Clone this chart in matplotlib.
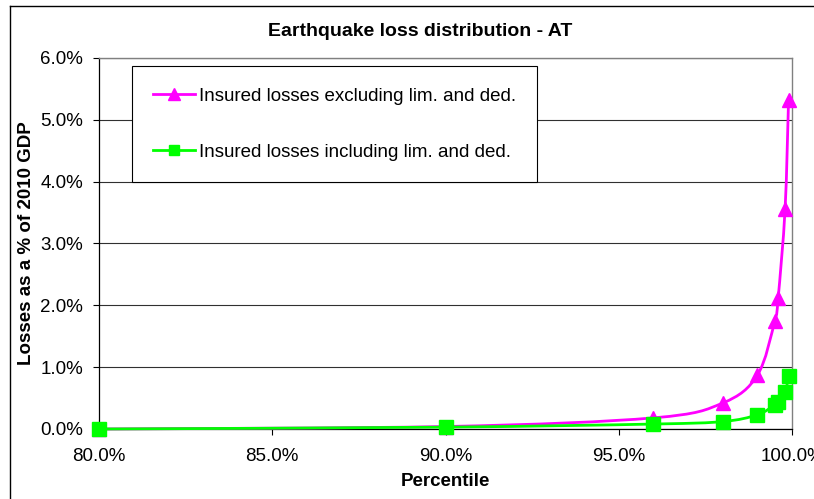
import matplotlib
matplotlib.use('Agg')
import matplotlib.pyplot as plt
from matplotlib.path import Path
from matplotlib.patches import PathPatch
from matplotlib.lines import Line2D
from matplotlib.ticker import FuncFormatter, MultipleLocator

plt.rcParams['font.family'] = ['Liberation Sans', 'DejaVu Sans']

# Datos (percentil y perdidas en % del PIB 2010)
percentiles = [80.0, 90.0, 96.0, 98.0, 99.0, 99.5, 99.6, 99.8, 99.9]
excl_losses = [0.00, 0.04, 0.18, 0.42, 0.87, 1.74, 2.12, 3.56, 5.32]
incl_losses = [0.00, 0.03, 0.08, 0.12, 0.23, 0.39, 0.44, 0.60, 0.85]

label_excl = 'Insured losses excluding lim. and ded.'
label_incl = 'Insured losses including lim. and ded.'
magenta = '#FF00FF'
green = '#00FF00'
fsize = 13.5


def smooth_path(xs, ys):
    # curva suavizada tipo Excel (Bezier que pasa por cada punto)
    pts = list(zip(xs, ys))
    verts = [pts[0]]
    codes = [Path.MOVETO]
    n = len(pts)
    for i in range(n - 1):
        p0 = pts[i - 1] if i > 0 else pts[i]
        p1 = pts[i]
        p2 = pts[i + 1]
        p3 = pts[i + 2] if i + 2 < n else pts[i + 1]
        c1 = (p1[0] + (p2[0] - p0[0]) / 6, p1[1] + (p2[1] - p0[1]) / 6)
        c2 = (p2[0] - (p3[0] - p1[0]) / 6, p2[1] - (p3[1] - p1[1]) / 6)
        verts += [c1, c2, p2]
        codes += [Path.CURVE4] * 3
    return Path(verts, codes)


fig = plt.figure(figsize=(8.14, 4.99), dpi=100)
ax = fig.add_axes([0.1216, 0.1403, 0.8514, 0.7435])

ax.set_xlim(80, 100)
ax.set_ylim(0, 6)
ax.yaxis.set_major_locator(MultipleLocator(1))
ax.xaxis.set_major_locator(MultipleLocator(5))
ax.yaxis.set_major_formatter(FuncFormatter(lambda v, p: '%.1f%%' % v))
ax.xaxis.set_major_formatter(FuncFormatter(lambda v, p: '%.1f%%' % v))
ax.grid(axis='y', color='#303030', linewidth=0.8)
ax.set_axisbelow(True)
ax.tick_params(direction='out', length=4.5, width=0.8, labelsize=fsize)
ax.tick_params(axis='x', pad=9.5)
ax.tick_params(axis='y', pad=7)

for s in ['left', 'bottom']:
    ax.spines[s].set_color('black')
    ax.spines[s].set_linewidth(0.9)
for s in ['top', 'right']:
    ax.spines[s].set_color('#808080')
    ax.spines[s].set_linewidth(1.0)

# lineas suavizadas
for ys, col, z in [(excl_losses, magenta, 3), (incl_losses, green, 4)]:
    patch = PathPatch(smooth_path(percentiles, ys), facecolor='none', edgecolor=col,
                      linewidth=2.0, zorder=z, clip_on=False)
    ax.add_patch(patch)

ax.plot(percentiles, excl_losses, linestyle='none', marker='^', markersize=10.5,
        color=magenta, zorder=5, clip_on=False)
ax.plot(percentiles, incl_losses, linestyle='none', marker='s', markersize=9.5,
        color=green, zorder=6, clip_on=False)

handles = [
    Line2D([], [], color=magenta, linewidth=2.0, marker='^', markersize=9),
    Line2D([], [], color=green, linewidth=2.0, marker='s', markersize=7),
]
leg = fig.legend(handles, [label_excl, label_incl], loc='upper left',
                 bbox_to_anchor=(0.162, 0.868), fontsize=fsize, frameon=True,
                 fancybox=False, framealpha=1, edgecolor='black',
                 borderpad=1.15, labelspacing=2.08, handlelength=2.2,
                 handletextpad=0.22, borderaxespad=0)
leg.get_frame().set_linewidth(0.8)

fig.text(0.516, 0.936, 'Earthquake loss distribution - AT', ha='center', va='center',
         fontsize=14, fontweight='bold')
fig.text(0.547, 0.036, 'Percentile', ha='center', va='center',
         fontsize=fsize, fontweight='bold')
fig.text(0.032, 0.512, 'Losses as a % of 2010 GDP', ha='center', va='center',
         rotation=90, fontsize=fsize, fontweight='bold')

# borde exterior del grafico
fig.add_artist(Line2D([10 / 814, 10 / 814], [0, 1 - 6 / 499], color='black',
                      linewidth=1.0, transform=fig.transFigure))
fig.add_artist(Line2D([10 / 814, 1], [1 - 6 / 499, 1 - 6 / 499], color='black',
                      linewidth=1.0, transform=fig.transFigure))

fig.savefig('out.png', dpi=100)
